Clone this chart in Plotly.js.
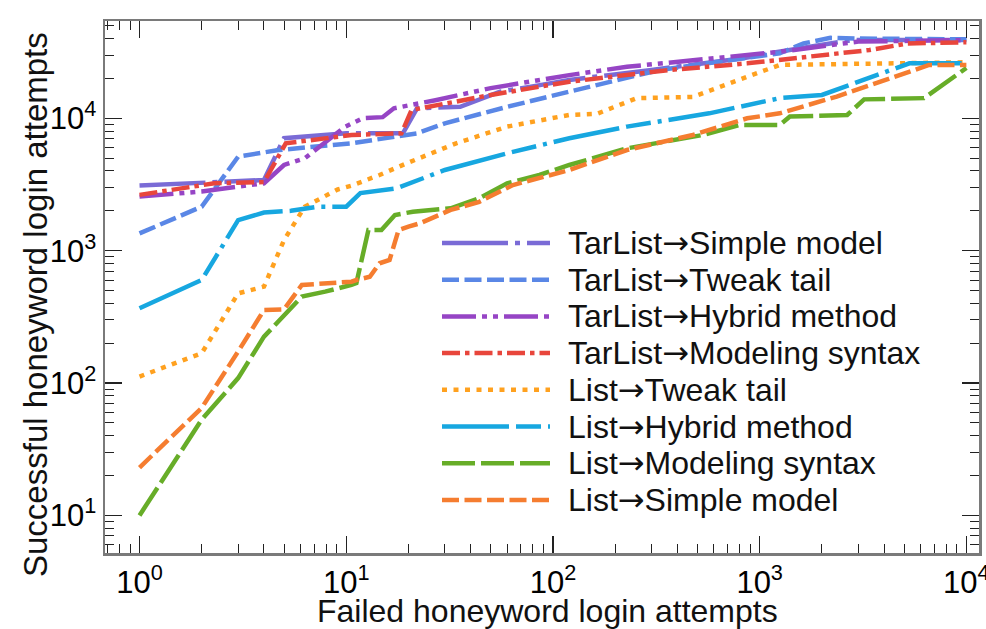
<!DOCTYPE html>
<html>
<head>
<meta charset="utf-8">
<script src="https://cdn.plot.ly/plotly-3.0.1.min.js"></script>
<style>
  html, body { margin: 0; padding: 0; background: #fff; }
  #chart { width: 986px; height: 629px; }
</style>
</head>
<body>
<div id="chart"></div>
<script>
// Series names, in legend order
const seriesNames = [
  'TarList\u2192Simple model',
  'TarList\u2192Tweak tail',
  'TarList\u2192Hybrid method',
  'TarList\u2192Modeling syntax',
  'List\u2192Tweak tail',
  'List\u2192Hybrid method',
  'List\u2192Modeling syntax',
  'List\u2192Simple model'
];

// Failed attempts (x) vs successful attempts (y) for each series
const tarSimpleX = [1, 2, 4, 5, 10, 18.8, 22, 35.6, 55.5, 86.5, 120, 300, 830, 1120, 2800, 10000];
const tarSimpleY = [3100, 3270, 3420, 7070, 7700, 7700, 11900, 12200, 15900, 17800, 19500, 23200, 28400, 31000, 39000, 39000];

const tarTweakX = [1, 2, 3, 4.7, 10.6, 22, 30, 60, 120, 330, 1250, 1630, 2200, 3000, 10000];
const tarTweakY = [1350, 2150, 5130, 5760, 6470, 7700, 9160, 12200, 15900, 23200, 31000, 36800, 40500, 40000, 39500];

const tarHybridX = [1, 2, 4, 5, 6.3, 9.9, 12, 15, 17, 27, 50, 120, 228, 830, 1250, 3000, 10000];
const tarHybridY = [2560, 2800, 3230, 4440, 4990, 8650, 10000, 10200, 11900, 13700, 16900, 21200, 24500, 30000, 31800, 38000, 39000];

const tarModelX = [1, 2.3, 4, 5.1, 10.6, 18.5, 20.7, 50, 120, 370, 870, 1630, 3400, 5200, 10000];
const tarModelY = [2640, 3230, 3300, 6470, 7480, 7700, 11550, 15000, 18900, 23200, 26000, 29200, 32800, 36800, 37500];

const listTweakX = [1, 2, 3, 4, 5, 6.3, 9.1, 10.6, 14.5, 19.6, 34, 60, 120, 163, 254, 475, 870, 1250, 10000];
const listTweakY = [112, 168, 476, 535, 1200, 2150, 2900, 3100, 3730, 4570, 6470, 8650, 10600, 10800, 14200, 14500, 20600, 25300, 26500];

const listHybridX = [1, 2, 3, 4, 5.4, 7.3, 10, 11.7, 17.5, 30, 60, 120, 228, 570, 1250, 2000, 5300, 10000];
const listHybridY = [367, 601, 1700, 1940, 2000, 2150, 2150, 2720, 2960, 4070, 5440, 7070, 8650, 10900, 14200, 15000, 26000, 26000];

const listModelX = [1, 2, 3, 4, 6.1, 7.9, 10.6, 11.2, 12.8, 14.8, 17.2, 21, 32, 44, 60, 86, 120, 228, 530, 800, 1250, 1400, 2650, 3200, 6240, 10000];
const listModelY = [10, 53, 109, 224, 450, 490, 551, 570, 1430, 1430, 1860, 1970, 2090, 2490, 3230, 3730, 4440, 5930, 7480, 8900, 8900, 10300, 10600, 13900, 14200, 24000];

const listSimpleX = [1, 2, 3, 4, 5, 6.1, 10.6, 11.2, 13, 14.5, 16.2, 17.9, 20, 22.7, 32, 44, 64, 120, 228, 475, 870, 1250, 2360, 4100, 6600, 10000];
const listSimpleY = [23, 65, 173, 356, 360, 551, 583, 600, 635, 803, 850, 1430, 1520, 1610, 2030, 2340, 3130, 4070, 5760, 7480, 10000, 10900, 14600, 19500, 25300, 25300];

// Axis tick labels
const tickVals = [1, 10, 100, 1000, 10000];
const tickText = ['10<sup>0</sup>', '10<sup>1</sup>', '10<sup>2</sup>', '10<sup>3</sup>', '10<sup>4</sup>'];

const xTitle = 'Failed honeyword login attempts';
const yTitle = 'Successful honeyword login attempts';

const xs = [tarSimpleX, tarTweakX, tarHybridX, tarModelX, listTweakX, listHybridX, listModelX, listSimpleX];
const ys = [tarSimpleY, tarTweakY, tarHybridY, tarModelY, listTweakY, listHybridY, listModelY, listSimpleY];

const colors = ['#7a6bd6', '#5a87e6', '#9645c5', '#e8463c', '#ffa11f', '#17a7e0', '#67ad28', '#f57d30'];
const dashes = [
  '66px,7px,5px,7px',
  '17px,5.5px',
  '34px,6px,5px,6px,5px,6px',
  '18px,5px,4.5px,5px',
  '5px,6.5px',
  '67px,7px,25px,7px,4px,7px',
  '33px,6px',
  '17px,5.5px'
];
const lineWidth = 4.5;

const traces = seriesNames.map((name, i) => ({
  type: 'scatter',
  mode: 'lines',
  name: name,
  x: xs[i],
  y: ys[i],
  line: { color: colors[i], width: lineWidth, dash: dashes[i] },
  showlegend: false
}));

// minor tick positions: 2..9 times each power of ten
const minorVals = [];
for (let d = -1; d <= 4; d++) {
  for (let k = 2; k <= 9; k++) minorVals.push(k * Math.pow(10, d));
}

const fontFamily = 'Liberation Sans, Arial, sans-serif';

const axisCommon = {
  type: 'log',
  showgrid: false,
  zeroline: false,
  showline: true,
  linecolor: '#7a7a7a',
  linewidth: 2.5,
  mirror: 'allticks',
  ticks: 'inside',
  ticklen: 17,
  tickwidth: 1.2,
  tickcolor: '#222',
  tickmode: 'array',
  tickvals: tickVals,
  ticktext: tickText,
  ticklabeloverflow: 'allow',
  tickfont: { family: fontFamily, size: 31, color: '#000' },
  minor: {
    tickmode: 'array',
    tickvals: minorVals,
    ticks: 'inside',
    ticklen: 9,
    tickwidth: 1,
    tickcolor: '#222',
    showgrid: false
  }
};

// Plot-area pixel frame, used to place the legend and titles
const plotL = 105, plotR = 979, plotT = 21, plotB = 553;
const toPX = px => (px - plotL) / (plotR - plotL);
const toPY = py => (plotB - py) / (plotB - plotT);

// Legend drawn as line samples plus labels inside the plot area
const legendTop = 243, legendStep = 36.7;
const shapes = [], annotations = [];
seriesNames.forEach((name, i) => {
  const py = legendTop + i * legendStep;
  shapes.push({
    type: 'line', xref: 'paper', yref: 'paper',
    x0: toPX(442), x1: toPX(550), y0: toPY(py), y1: toPY(py),
    line: { color: colors[i], width: lineWidth, dash: dashes[i] }
  });
  annotations.push({
    xref: 'paper', yref: 'paper',
    x: toPX(566), y: toPY(py),
    xanchor: 'left', yanchor: 'middle',
    text: name.replace('\u2192', '<span style="font-family:DejaVu Sans">\u2192</span>'),
    showarrow: false,
    font: { family: fontFamily, size: 32, color: '#111' }
  });
});

// Axis titles
annotations.push({
  xref: 'paper', yref: 'paper',
  x: toPX(547), y: toPY(611),
  xanchor: 'center', yanchor: 'middle',
  text: xTitle, showarrow: false,
  font: { family: fontFamily, size: 32, color: '#111' }
});
annotations.push({
  xref: 'paper', yref: 'paper',
  x: toPX(35), y: toPY(305),
  xanchor: 'center', yanchor: 'middle',
  textangle: -90,
  text: yTitle, showarrow: false,
  font: { family: fontFamily, size: 33, color: '#111' }
});

const layout = {
  width: 986,
  height: 629,
  margin: { l: plotL, r: 986 - plotR, t: plotT, b: 629 - plotB },
  paper_bgcolor: '#fff',
  plot_bgcolor: '#fff',
  showlegend: false,
  font: { family: fontFamily, color: '#000' },
  xaxis: Object.assign({}, axisCommon, { range: [-0.167, 4.061] }),
  yaxis: Object.assign({}, axisCommon, { range: [0.716, 4.735] }),
  shapes: shapes,
  annotations: annotations
};

Plotly.newPlot('chart', traces, layout, { displayModeBar: false, staticPlot: true });
</script>
</body>
</html>
